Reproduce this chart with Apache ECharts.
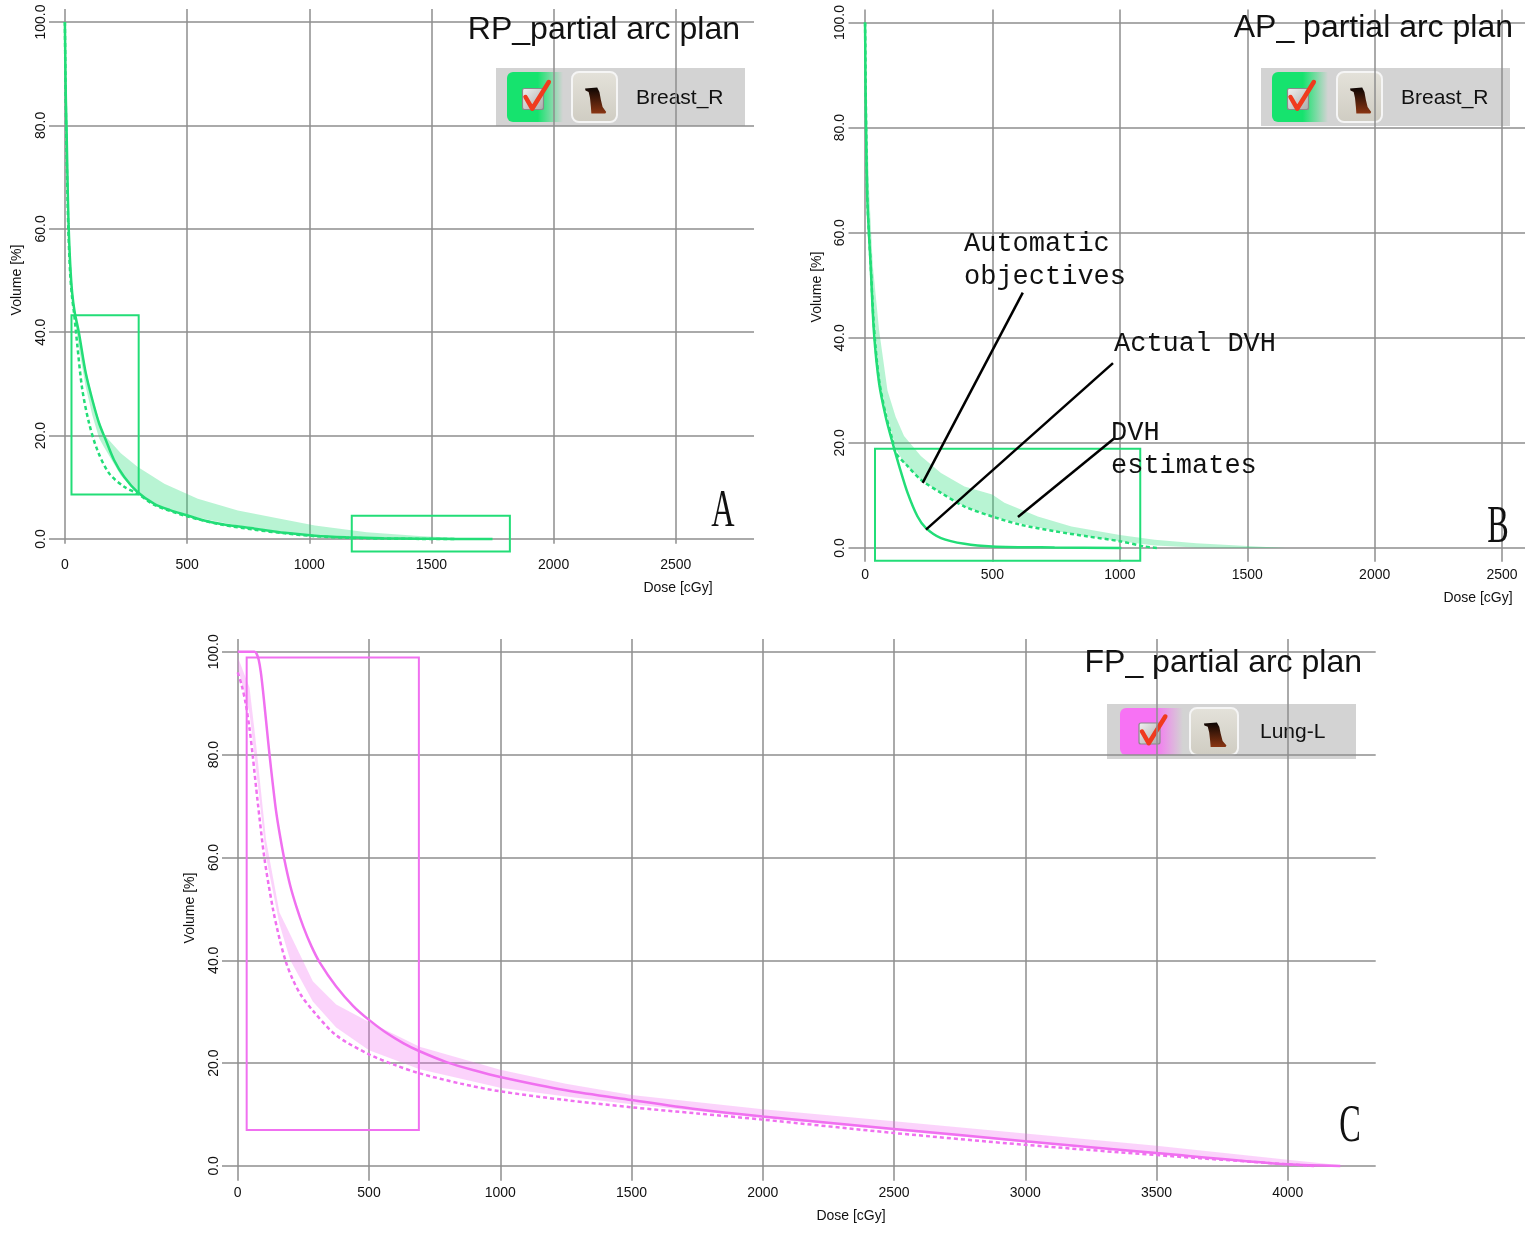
<!DOCTYPE html>
<html><head><meta charset="utf-8">
<script src="https://cdn.jsdelivr.net/npm/echarts@6/dist/echarts.min.js"></script>
<style>html,body{margin:0;padding:0;background:#fff}#c{width:1535px;height:1236px}</style>
</head><body><div id="c"></div>
<script>
// ---------- Panel A: RP_partial arc plan (Breast_R) ----------
const aActual = [[0,100],[2,92],[4,85],[7,79],[11,69],[15,61],[22,53],[30,47.5],[40,43.9],[57,40],[85,32.2],[112,27],[140,22.4],[167,19.2],[201,15.3],[243,12],[297,9.1],[366,6.8],[430,5.6],[500,4.6],[570,3.6],[640,2.9],[777,2.0],[900,1.2],[1023,0.65],[1150,0.35],[1300,0.15],[1450,0.06],[1600,0.02],[1750,0]];
const aEstimate = [[0,100],[2,90],[5,80],[9,70],[14,60],[22,51],[30,46.5],[37,43.9],[51,37.4],[71,29],[99,22.4],[133,17.2],[181,12.7],[243,10.1],[297,8.8],[366,6.6],[500,4.4],[640,2.8],[777,1.8],[900,1.1],[1023,0.55],[1150,0.25],[1300,0.1],[1450,0.03],[1600,0]];
const aBandDose  = [0,5,15,30,40,57,85,112,140,160,229,297,407,544,708,886,1023,1235,1450,1640];
const aBandUpper = [100,84,62,48,44,40.5,33,27.5,23,20.2,16.6,14,10.7,7.8,5.5,3.9,2.6,1.3,0.6,0.1];
const aBandLower = [100,80,60,46.5,43,37,29.5,24,19.5,17.8,12.3,8.8,6,4.1,2.6,1.4,0.55,0.1,0.02,0];
const aBoxes = [[27,8.6,302,43.3],[1174,-2.4,1821,4.5]];

// ---------- Panel B: AP_ partial arc plan (Breast_R) ----------
const bActual = [[0,100],[2,88],[4,79],[6,73],[9,66.3],[15,60],[22,53.7],[35,41],[55,31.4],[81,25],[108,20],[134,15.6],[167,10.5],[206,6],[239,3.8],[298,1.9],[390,0.8],[499,0.3],[744,0.1],[1006,0]];
const bEstimate = [[0,100],[3,85],[6,74],[10,65],[22,54],[35,42],[55,32],[81,25.5],[108,20.5],[121,18.1],[167,15.6],[219,13],[298,10.5],[390,7.9],[499,6],[613,4.4],[744,3.2],[875,2.2],[1000,1.3],[1098,0.3],[1150,0]];
const bBandDose  = [0,5,16,30,55,88,120,153,219,298,390,499,547,678,810,1000,1137,1300,1500,1650];
const bBandUpper = [100,86,68,54,41.5,30,25,21.3,17.5,14.3,11.7,10.2,8.6,6,4.1,2.5,1.6,0.9,0.4,0];
const bBandLower = [100,78,62,47,32,25,19,16.2,13,10.5,7.9,6,5.4,3.9,2.7,1.3,0.5,0.1,0,0];
const bBoxes = [[39,-2.4,1080,18.9]];
const bPointers = [[619,48.6,226,12.4],[973,35.2,239,3.5],[981,21,600,5.9]];

// ---------- Panel C: FP_ partial arc plan (Lung-L) ----------
const cActual = [[0,100],[64,100],[72,99.6],[80,98.4],[88,96],[96,92.5],[104,88.5],[112,84.5],[121,80],[133,74.5],[146,69],[160,64.5],[178,59.5],[200,54.5],[223,50.5],[250,46.5],[280,42.8],[312,39.6],[375,34.9],[440,31.1],[500,28.4],[560,26.1],[630,23.9],[693,22.3],[795,20.2],[900,18.6],[1000,17.3],[1250,14.7],[1500,12.8],[1750,11.0],[2000,9.6],[2500,7.2],[3000,4.8],[3500,2.5],[4000,0.3],[4200,0]];
const cEstimate = [[0,96],[15,93.5],[30,90],[45,85],[57,79.8],[76,70.8],[102,59.7],[134,50],[160,44],[184,39.6],[210,36.2],[240,33.3],[286,30.2],[375,25.4],[500,21.7],[600,19.6],[693,18],[850,16],[1000,14.5],[1250,12.8],[1500,11.4],[1750,10.2],[2000,9.0],[2500,6.4],[3000,4.1],[3500,2.1],[4000,0.3],[4100,0]];
const cBandDose  = [0,45,70,108,159,200,286,375,500,693,1000,1250,1500,2000,2500,3000,3500,4000,4230];
const cBandUpper = [99,93,82,63.4,49.3,45,35.9,31.4,28,23.2,18.7,16.0,13.8,11.0,8.7,6.3,3.9,1.2,0];
const cBandLower = [97,88,77,60,47,40,32,26.9,22.5,18.8,15.2,13.5,12.0,9.3,6.9,4.6,2.2,0.3,0];
const cBoxes = [[34,7.0,690,98.9]];

// ---------- ticks ----------
const yTicks = [0,20,40,60,80,100];
const xTicksAB = [0,500,1000,1500,2000,2500];
const xTicksC = [0,500,1000,1500,2000,2500,3000,3500,4000];

const SANS = '"Liberation Sans", Arial, sans-serif';
const GREEN = '#22dd77', GREEN_FILL = 'rgba(34,221,119,0.32)';
const PINK = '#f070f0', PINK_FILL = 'rgba(243,110,243,0.30)';
const GRIDC = '#8e8e8e';

const panels = [
  {grid:{left:49, top:9.1, width:705, height:534.6}, xMin:-65, xMax:2820, yMin:-0.9, xt:xTicksAB, lm:14},
  {grid:{left:848.5, top:9.4, width:676.5, height:552.3}, xMin:-65, xMax:2590, yMin:-2.6, xt:xTicksAB, lm:6},
  {grid:{left:222, top:639, width:1153.7, height:541.8}, xMin:-60, xMax:4335, yMin:-2.9, xt:xTicksC, lm:5}
];

const grids = panels.map(p => Object.assign({outerBoundsMode:'none', containLabel:false}, p.grid));
const xAxes = panels.map((p,i) => ({
  type:'value', gridIndex:i, min:p.xMin, max:p.xMax,
  axisLine:{show:false}, axisTick:{show:false, customValues:p.xt},
  axisLabel:{customValues:p.xt, margin:p.lm, fontSize:14, color:'#111', fontFamily:SANS, formatter: v => String(v)},
  splitLine:{show:true, lineStyle:{color:GRIDC, width:1.5}}
}));
const yAxes = panels.map((p,i) => ({
  type:'value', gridIndex:i, min:p.yMin, max:102.5,
  axisLine:{show:false}, axisTick:{show:false, customValues:yTicks},
  axisLabel:{customValues:yTicks, rotate:90, margin:1, fontSize:14, color:'#111', fontFamily:SANS,
    formatter: v => Number(v).toFixed(1)},
  splitLine:{show:true, lineStyle:{color:GRIDC, width:1.5}}
}));

function band(i, xs, up, lo, fill){
  return {type:'custom', xAxisIndex:i, yAxisIndex:i, clip:true, silent:true, z:1, data:[[0,0]],
    renderItem:(params, api) => {
      const pts = [];
      for (let k=0;k<xs.length;k++) pts.push(api.coord([xs[k], up[k]]));
      for (let k=xs.length-1;k>=0;k--) pts.push(api.coord([xs[k], lo[k]]));
      return {type:'polygon', shape:{points:pts}, style:{fill:fill}};
    }};
}
function curve(i, data, color, dashed){
  return {type:'line', xAxisIndex:i, yAxisIndex:i, data:data, showSymbol:false, symbol:'none',
    smooth:0.3, silent:true, z:3,
    lineStyle:{color:color, width:2.5, type: dashed ? [4,3] : 'solid'}};
}
function boxes(i, data, color){
  return {type:'custom', xAxisIndex:i, yAxisIndex:i, clip:false, silent:true, z:4, data:data,
    dimensions:['x0','y0','x1','y1'], encode:{x:[0,2], y:[1,3]},
    renderItem:(params, api) => {
      const a = api.coord([api.value(0), api.value(3)]);
      const b = api.coord([api.value(2), api.value(1)]);
      return {type:'rect', shape:{x:a[0], y:a[1], width:b[0]-a[0], height:b[1]-a[1]},
        style:{fill:'none', stroke:color, lineWidth:2}};
    }};
}
function pointers(i, data){
  return {type:'custom', xAxisIndex:i, yAxisIndex:i, clip:false, silent:true, z:5, data:data,
    dimensions:['x0','y0','x1','y1'], encode:{x:[0,2], y:[1,3]},
    renderItem:(params, api) => {
      const a = api.coord([api.value(0), api.value(1)]);
      const b = api.coord([api.value(2), api.value(3)]);
      return {type:'line', shape:{x1:a[0], y1:a[1], x2:b[0], y2:b[1]},
        style:{stroke:'#000', lineWidth:2.5}};
    }};
}

const series = [
  band(0, aBandDose, aBandUpper, aBandLower, GREEN_FILL),
  curve(0, aEstimate, GREEN, true), curve(0, aActual, GREEN, false), boxes(0, aBoxes, GREEN),
  band(1, bBandDose, bBandUpper, bBandLower, GREEN_FILL),
  curve(1, bEstimate, GREEN, true), curve(1, bActual, GREEN, false), boxes(1, bBoxes, GREEN), pointers(1, bPointers),
  band(2, cBandDose, cBandUpper, cBandLower, PINK_FILL),
  curve(2, cEstimate, PINK, true), curve(2, cActual, PINK, false), boxes(2, cBoxes, PINK)
];

function txt(x, y, s, o){
  return Object.assign({type:'text', x:x, y:y, z:50, silent:true,
    style:Object.assign({text:s, fill:'#111', font:'14px ' + SANS, align:'center', verticalAlign:'middle'}, o && o.style)},
    o && o.el);
}

function legend(o){
  const cx = o.bx + o.bw/2, cy = o.h/2;
  const kx = cx - 2, ky = cy + 2;
  const ix = o.ix, iw = o.iw, iy = 4, ih = o.h - 8;
  const shapeFr = [[0.29,0.33],[0.56,0.31],[0.61,0.40],[0.64,0.55],[0.68,0.70],[0.76,0.80],[0.74,0.83],[0.43,0.83],[0.42,0.70],[0.40,0.52],[0.37,0.40],[0.30,0.37]];
  return {type:'group', x:o.x, y:o.y, z:60, silent:true, children:[
    {type:'rect', shape:{x:0, y:0, width:o.w, height:o.h}, style:{fill:'#d3d3d3'}},
    {type:'rect', shape:{x:o.bx, y:4, width:o.bw, height:o.h-8, r:[6,0,0,6]},
      style:{fill:{type:'linear', x:0, y:0, x2:1, y2:0, colorStops:[{offset:0,color:o.color},{offset:0.55,color:o.color},{offset:1,color:'#d3d3d3'}]}}},
    {type:'rect', shape:{x:kx-10.5, y:ky-10.5, width:21, height:21, r:2},
      style:{fill:{type:'linear', x:0, y:0, x2:1, y2:1, colorStops:[{offset:0,color:'#f2f2f2'},{offset:1,color:'#a9a9a9'}]}, stroke:'#8a8a8a', lineWidth:1.2}},
    {type:'polyline', shape:{points:[[kx-7.5,ky-2],[kx-0.8,ky+9.7],[kx+15.8,ky-17]]},
      style:{stroke:'#f03a1e', lineWidth:4.5, fill:'none', lineJoin:'round', lineCap:'round'}},
    {type:'rect', shape:{x:ix, y:iy, width:iw, height:ih, r:7},
      style:{fill:{type:'linear', x:0, y:0, x2:0, y2:1, colorStops:[{offset:0,color:'#e4e2da'},{offset:1,color:'#cfccc2'}]}, stroke:'#f5f5f5', lineWidth:2}},
    {type:'polygon', shape:{points:shapeFr.map(p => [ix + p[0]*iw, iy + p[1]*ih])},
      style:{fill:{type:'linear', x:0, y:0, x2:0, y2:1, colorStops:[{offset:0,color:'#0d0603'},{offset:1,color:'#8a3512'}]}}},
    {type:'text', x:o.tx, y:cy+1, style:{text:o.label, font:'21px ' + SANS, fill:'#111', align:'left', verticalAlign:'middle'}}
  ]};
}

const graphics = [
  // titles
  txt(740, 30, 'RP_partial arc plan', {style:{font:'32px ' + SANS, align:'right'}}),
  txt(1513, 28, 'AP_ partial arc plan', {style:{font:'32px ' + SANS, align:'right'}}),
  txt(1362, 663, 'FP_ partial arc plan', {style:{font:'32px ' + SANS, align:'right'}}),
  // axis names
  txt(678, 588, 'Dose [cGy]'), txt(1478, 598, 'Dose [cGy]'), txt(851, 1216, 'Dose [cGy]'),
  txt(17, 280, 'Volume [%]', {el:{rotation:Math.PI/2}}),
  txt(817, 287, 'Volume [%]', {el:{rotation:Math.PI/2}}),
  txt(190, 908, 'Volume [%]', {el:{rotation:Math.PI/2}}),
  // panel letters
  txt(723, 512, 'A', {style:{font:'52px "Liberation Serif", serif'}, el:{scaleX:0.62}}),
  txt(1498, 528, 'B', {style:{font:'52px "Liberation Serif", serif'}, el:{scaleX:0.62}}),
  txt(1350, 1127, 'C', {style:{font:'52px "Liberation Serif", serif'}, el:{scaleX:0.62}}),
  // annotations
  txt(964, 244, 'Automatic', {style:{font:'27px "Liberation Mono", monospace', align:'left'}}),
  txt(964, 277, 'objectives', {style:{font:'27px "Liberation Mono", monospace', align:'left'}}),
  txt(1114, 344, 'Actual DVH', {style:{font:'27px "Liberation Mono", monospace', align:'left'}}),
  txt(1111, 433, 'DVH', {style:{font:'27px "Liberation Mono", monospace', align:'left'}}),
  txt(1111, 466, 'estimates', {style:{font:'27px "Liberation Mono", monospace', align:'left'}}),
  // legends
  legend({x:496, y:68, w:249, h:58, bx:11, bw:56, ix:76, iw:45, tx:140, color:'#16e36e', label:'Breast_R'}),
  legend({x:1261, y:68, w:249, h:58, bx:11, bw:56, ix:76, iw:45, tx:140, color:'#16e36e', label:'Breast_R'}),
  legend({x:1107, y:704, w:249, h:55, bx:13, bw:63, ix:83, iw:48, tx:153, color:'#f772f4', label:'Lung-L'})
];

const chart = echarts.init(document.getElementById('c'), null, {renderer:'canvas'});
chart.setOption({
  animation:false,
  backgroundColor:'#fff',
  grid:grids, xAxis:xAxes, yAxis:yAxes, series:series, graphic:graphics
});
</script></body></html>
